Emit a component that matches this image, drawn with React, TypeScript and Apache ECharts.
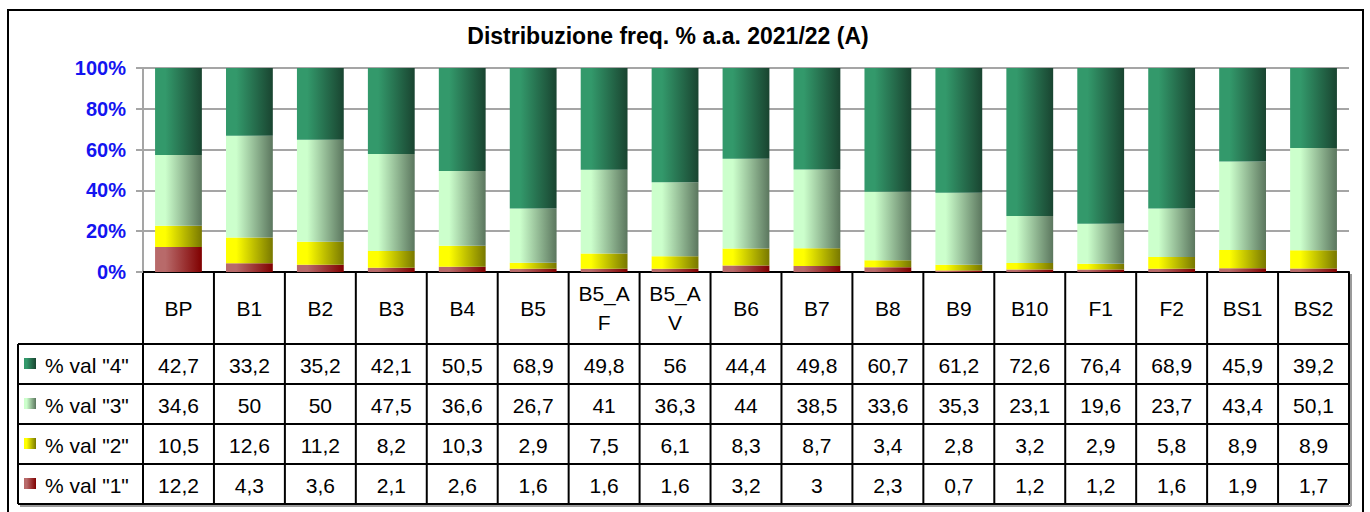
import React, { useEffect, useRef } from "react";
import * as echarts from "echarts";

const categories = ["BP", "B1", "B2", "B3", "B4", "B5", "B5_AF", "B5_AV", "B6", "B7", "B8", "B9", "B10", "F1", "F2", "BS1", "BS2"];
const val4 = [42.7, 33.2, 35.2, 42.1, 50.5, 68.9, 49.8, 56, 44.4, 49.8, 60.7, 61.2, 72.6, 76.4, 68.9, 45.9, 39.2];
const val3 = [34.6, 50, 50, 47.5, 36.6, 26.7, 41, 36.3, 44, 38.5, 33.6, 35.3, 23.1, 19.6, 23.7, 43.4, 50.1];
const val2 = [10.5, 12.6, 11.2, 8.2, 10.3, 2.9, 7.5, 6.1, 8.3, 8.7, 3.4, 2.8, 3.2, 2.9, 5.8, 8.9, 8.9];
const val1 = [12.2, 4.3, 3.6, 2.1, 2.6, 1.6, 1.6, 1.6, 3.2, 3, 2.3, 0.7, 1.2, 1.2, 1.6, 1.9, 1.7];
const seriesNames = ['% val "4"', '% val "3"', '% val "2"', '% val "1"'];
const titleText = "Distribuzione freq. % a.a. 2021/22 (A)";

// layout
const W = 1370;
const H = 512;
const PLOT_L = 143;
const PLOT_R = 1349;
const PLOT_T = 68;
const PLOT_B = 272;
const HEADER_B = 344;
const ROW_H = 40;
const LEGEND_L = 18;
const FONT = "Liberation Sans, Arial, sans-serif";

const palette: [string, string][] = [
  ["#33996B", "#194430"],
  ["#CCFFCC", "#5B765E"],
  ["#FFFF00", "#787800"],
  ["#B86A6A", "#800000"],
];

function grad(c: [string, string]) {
  return new echarts.graphic.LinearGradient(0, 0, 1, 0, [
    { offset: 0, color: c[0] },
    { offset: 0.22, color: c[0] },
    { offset: 1, color: c[1] },
  ]);
}

function fmt(v: number) {
  return String(v).replace(".", ",");
}

function wrapLabel(s: string) {
  return s.length > 4 ? s.slice(0, 4) + "\n" + s.slice(4) : s;
}

export default function App() {
  const ref = useRef<HTMLDivElement>(null);

  useEffect(() => {
    document.body.style.margin = "0";
    if (!ref.current) return;
    const chart = echarts.init(ref.current, undefined, { renderer: "svg" });

    const rows = [val4, val3, val2, val1];
    const totals = categories.map((_, i) => val1[i] + val2[i] + val3[i] + val4[i]);
    const norm = (arr: number[]) => arr.map((v, i) => (v / totals[i]) * 100);

    const stackOrder = [3, 2, 1, 0]; // bottom to top: val1, val2, val3, val4
    const series = stackOrder.map((ri) => ({
      name: seriesNames[ri],
      type: "bar",
      stack: "total",
      barWidth: "66%",
      data: norm(rows[ri]),
      itemStyle: { color: grad(palette[ri]) },
      silent: true,
    }));

    const n = categories.length;
    const colW = (PLOT_R - PLOT_L) / n;
    const g: any[] = [];
    const black = { stroke: "#000", lineWidth: 2 };
    const TF = `21px ${FONT}`;

    // outer frame
    g.push({ type: "rect", shape: { x: 8, y: 10, width: 1355, height: 520 }, style: { fill: "none", stroke: "#000", lineWidth: 2 }, z: 1 });

    const tableBottom = HEADER_B + ROW_H * 4;
    // shadow
    g.push({ type: "line", shape: { x1: LEGEND_L + 2, y1: tableBottom + 2, x2: PLOT_R + 2, y2: tableBottom + 2 }, style: { stroke: "#9a9a9a", lineWidth: 2 } });
    g.push({ type: "line", shape: { x1: PLOT_R + 2, y1: PLOT_B + 2, x2: PLOT_R + 2, y2: tableBottom + 2 }, style: { stroke: "#9a9a9a", lineWidth: 2 } });

    // vertical lines
    for (let i = 0; i <= n; i++) {
      const x = PLOT_L + colW * i;
      g.push({ type: "line", shape: { x1: x, y1: PLOT_B, x2: x, y2: tableBottom }, style: black });
    }
    g.push({ type: "line", shape: { x1: LEGEND_L, y1: HEADER_B, x2: LEGEND_L, y2: tableBottom }, style: black });
    // horizontal lines
    for (let r = 0; r <= 4; r++) {
      const y = HEADER_B + ROW_H * r;
      g.push({ type: "line", shape: { x1: LEGEND_L, y1: y, x2: PLOT_R, y2: y }, style: black });
    }
    g.push({ type: "line", shape: { x1: PLOT_L, y1: PLOT_B, x2: PLOT_R, y2: PLOT_B }, style: black });

    // header labels
    categories.forEach((c, i) => {
      g.push({
        type: "text",
        x: PLOT_L + colW * (i + 0.5),
        y: (PLOT_B + HEADER_B) / 2,
        style: { text: wrapLabel(c), font: TF, fill: "#000", align: "center", verticalAlign: "middle", lineHeight: 29 },
      });
    });

    // rows
    rows.forEach((arr, r) => {
      const cy = HEADER_B + ROW_H * (r + 0.5);
      g.push({
        type: "rect",
        shape: { x: 24, y: cy - 6, width: 12, height: 11 },
        style: { fill: grad(palette[r]) },
      });
      g.push({
        type: "text",
        x: 45,
        y: cy + 1,
        style: { text: seriesNames[r], font: TF, fill: "#000", align: "left", verticalAlign: "middle" },
      });
      arr.forEach((v, i) => {
        g.push({
          type: "text",
          x: PLOT_L + colW * (i + 0.5),
          y: cy + 1,
          style: { text: fmt(v), font: TF, fill: "#000", align: "center", verticalAlign: "middle" },
        });
      });
    });

    chart.setOption({
      animation: false,
      title: {
        text: titleText,
        left: 663,
        top: 19,
        textAlign: "center",
        textStyle: { fontFamily: FONT, fontSize: 23, fontWeight: "bold", color: "#000" },
      },
      grid: { left: PLOT_L, right: W - PLOT_R, top: PLOT_T, height: PLOT_B - PLOT_T, containLabel: false },
      xAxis: {
        type: "category",
        data: categories,
        axisLine: { show: true, lineStyle: { color: "#000", width: 2 } },
        axisTick: { show: false },
        axisLabel: { show: false },
      },
      yAxis: {
        type: "value",
        min: 0,
        max: 100,
        interval: 20,
        axisLine: { show: true, lineStyle: { color: "#A5A5A5", width: 2 } },
        axisTick: { show: true, length: 7, lineStyle: { color: "#A5A5A5", width: 2 } },
        splitLine: { show: true, lineStyle: { color: "#A5A5A5", width: 2 } },
        axisLabel: {
          formatter: "{value}%",
          margin: 17,
          color: "#1414F0",
          fontFamily: FONT,
          fontSize: 20,
          fontWeight: "bold",
        },
      },
      series,
      graphic: g,
    });

    return () => chart.dispose();
  }, []);

  return <div ref={ref} style={{ width: W, height: H }} />;
}
